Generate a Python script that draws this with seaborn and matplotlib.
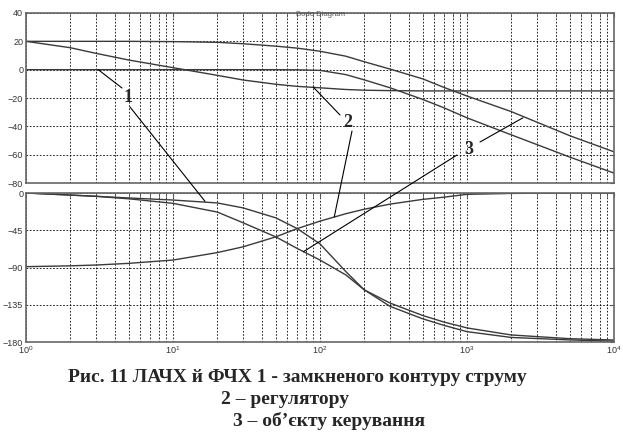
import matplotlib
matplotlib.use("Agg")
import matplotlib.pyplot as plt
import seaborn as sns
import pandas as pd
from matplotlib.ticker import LogLocator, NullFormatter

sns.set_style("white")
plt.rcParams['font.family'] = ['Liberation Sans', 'DejaVu Sans']
plt.rcParams['mathtext.default'] = 'regular'

# frequency points (rad/s) and values
freq = [1, 2, 3, 5, 10, 20, 30, 50, 70, 100, 150, 200, 300, 500, 700, 1000, 2000, 5000, 10000]
# magnitude, dB
mag_closed = [0, 0, 0, 0, 0, 0, 0, 0, -0.1, -0.5, -3.5, -7.2, -12.8, -21, -27, -34, -46, -61.7, -73]
mag_reg = [20, 15.5, 11.5, 6.8, 1.4, -4, -7.3, -10.3, -11.8, -12.8, -14, -14.5, -14.8, -15, -15, -15, -15, -15, -15]
mag_plant = [20, 20, 20, 20, 19.8, 19.3, 18.3, 16.6, 15.2, 13, 9.5, 5.6, 0.4, -6.5, -12.6, -18.6, -29.6, -46.6, -58]
# phase, deg
ph_closed = [0, -2.5, -4, -6, -8.5, -12, -18, -30, -43, -61.5, -95, -117, -137, -152, -160, -167.5, -174.5, -177.5, -179]
ph_reg = [-89, -88, -87, -85, -81, -72, -65, -53, -43, -34, -25, -19.6, -13.4, -7.7, -5, -1.6, -0.5, 0, 0]
ph_plant = [0, -2.5, -4, -7, -12.5, -23, -36, -53, -67, -81, -99, -117, -133, -148, -156, -163, -171.5, -176, -177.6]

mag_ticks = [-80, -60, -40, -20, 0, 20, 40]
ph_ticks = [-180, -135, -90, -45, 0]

caption = ["Рис. 11 ЛАЧХ й ФЧХ 1 - замкненого контуру струму",
           "2 – регулятору",
           "3 – об’єкту керування"]

df = pd.DataFrame({"w": freq, "m1": mag_closed, "m2": mag_reg, "m3": mag_plant,
                   "p1": ph_closed, "p2": ph_reg, "p3": ph_plant})

W, H = 623, 444
fig = plt.figure(figsize=(W / 100, H / 100), dpi=100)
ax_m = fig.add_axes([26 / W, 1 - 183 / H, 588 / W, 170 / H])
ax_p = fig.add_axes([26 / W, 1 - 342 / H, 588 / W, 149 / H])

line_c = "#3a3a3a"
for col in ["m1", "m2", "m3"]:
    sns.lineplot(data=df, x="w", y=col, ax=ax_m, color=line_c, lw=1.0)
for col in ["p1", "p2", "p3"]:
    sns.lineplot(data=df, x="w", y=col, ax=ax_p, color=line_c, lw=1.0)

for ax, ticks in [(ax_m, mag_ticks), (ax_p, ph_ticks)]:
    ax.set_xscale("log")
    ax.set_xlim(1, 1e4)
    ax.set_ylim(ticks[0], ticks[-1])
    ax.set_yticks(ticks)
    ax.xaxis.set_major_locator(LogLocator(base=10, numticks=10))
    ax.xaxis.set_minor_locator(LogLocator(base=10, subs=range(2, 10), numticks=10))
    ax.xaxis.set_minor_formatter(NullFormatter())
    ax.grid(True, which="major", axis="both", color="black", lw=0.6, linestyle=(0, (2, 2)))
    ax.grid(True, which="minor", axis="x", color="black", lw=0.6, linestyle=(0, (2, 2)))
    ax.tick_params(which="both", direction="in", top=True, right=True, length=3,
                   labelsize=6.5, labelcolor="#333333", color="#555555", pad=2)
    ax.set_xlabel("")
    ax.set_ylabel("")
    for s in ax.spines.values():
        s.set_color("#666666")
        s.set_linewidth(1.2)

ax_m.tick_params(labelbottom=False)
ax_m.text(0.5, 0.99, "Bode Diagram", transform=ax_m.transAxes, ha="center", va="center",
          fontsize=5.5, color="#555555")

# leader lines and curve numbers (image pixel coords -> figure pixels)
lab_font = dict(family=["Liberation Serif", "DejaVu Serif"], weight="bold", fontsize=13)
fig.text(128 / W, 1 - 97 / H, "1", ha="center", va="center", **lab_font)
fig.text(348 / W, 1 - 122 / H, "2", ha="center", va="center", **lab_font)
fig.text(469 / W, 1 - 150 / H, "3", ha="center", va="center", **lab_font)

leaders = [(ax_m, (3.1, 0), (122, 88)),
           (ax_p, (16.5, -10), (130, 107)),
           (ax_m, (90, -12.3), (340, 115)),
           (ax_p, (125, -29), (352, 131)),
           (ax_m, (2400, -34), (480, 142)),
           (ax_p, (77, -71), (457, 155))]
for ax, pt, start in leaders:
    ax.annotate("", xy=pt, xycoords="data", xytext=(start[0], H - start[1]),
                textcoords="figure pixels", annotation_clip=False,
                arrowprops=dict(arrowstyle="-", color="black", lw=0.8, shrinkA=0, shrinkB=0))

cap_font = dict(family=["Liberation Serif", "DejaVu Serif"], weight="bold", fontsize=14)
fig.text(68 / W, 1 - 377 / H, caption[0], ha="left", va="center", **cap_font)
fig.text(221 / W, 1 - 399 / H, caption[1], ha="left", va="center", **cap_font)
fig.text(233 / W, 1 - 421 / H, caption[2], ha="left", va="center", **cap_font)

fig.savefig("out.png", dpi=100)
